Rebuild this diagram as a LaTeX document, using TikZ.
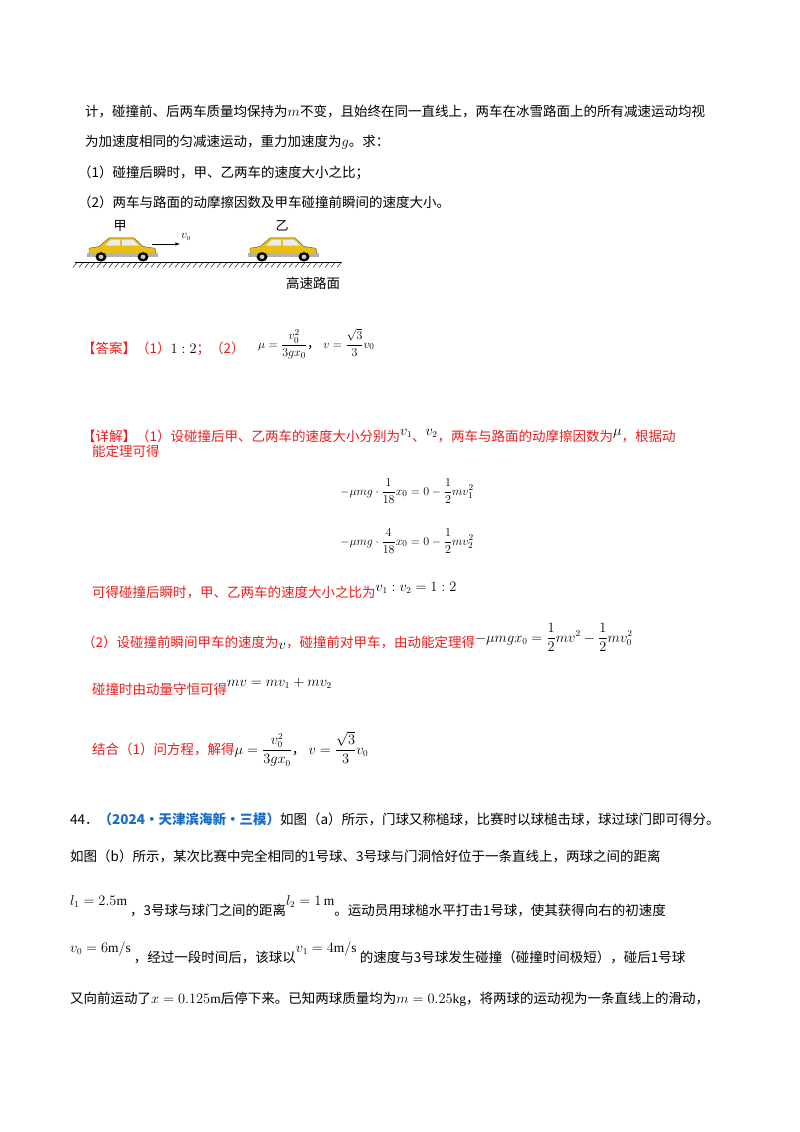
\documentclass[tikz,border=0pt]{standalone}
\usepackage{fontspec}
\usepackage{amsmath}
\setmainfont{Liberation Serif}
\newfontfamily\cjk{Noto Sans CJK SC}
\definecolor{ansred}{RGB}{230,30,30}
\definecolor{qblue}{RGB}{20,110,200}
\definecolor{caryel}{RGB}{235,190,20}
\tikzset{
  tx/.style={anchor=base west,inner sep=0pt,font=\cjk\fontsize{13.5}{16}\selectfont},
  rtx/.style={tx,text=ansred},
  mth/.style={anchor=base west,inner sep=0pt,font=\fontsize{13}{15}\selectfont},
  pics/car/.style={code={
    \fill[caryel,draw=black!70,line width=0.4pt] (0,8) -- (0,16) -- (10,18) -- (20,28) -- (45,28) -- (54,18) -- (66,16) -- (67,8) -- cycle;
    \fill[white!85!gray] (22,26) -- (31,26) -- (31,19) -- (16,19) -- cycle;
    \fill[white!85!gray] (33,26) -- (44,26) -- (50,19) -- (33,19) -- cycle;
    \fill[gray!60] (-2,6) rectangle (69,10);
    \fill[black] (12,6) circle (5.5); \fill[gray!40] (12,6) circle (2.5);
    \fill[black] (54,6) circle (5.5); \fill[gray!40] (54,6) circle (2.5);
  }}
}
\begin{document}
\begin{tikzpicture}[x=1pt,y=-1pt]
\useasboundingbox[fill=white] (0,0) rectangle (800,1132);
% problem text
\node[tx] (l1) at (85,116) {计，碰撞前、后两车质量均保持为$m$不变，且始终在同一直线上，两车在冰雪路面上的所有减速运动均视};
\node[tx] (l2) at (85,146) {为加速度相同的匀减速运动，重力加速度为$g$。求：};
\node[tx] (l3) at (78,177) {（1）碰撞后瞬时，甲、乙两车的速度大小之比；};
\node[tx] (l4) at (78,207) {（2）两车与路面的动摩擦因数及甲车碰撞前瞬间的速度大小。};
% figure
\draw[line width=0.6pt] (75,262.5) -- (342,262.5);
\foreach \i in {0,...,44} \draw[line width=0.4pt] (77+\i*6,262.5) -- (73+\i*6,267.5);
\pic at (89,262) [yscale=-0.86] {car};
\pic at (250,262) [yscale=-0.86] {car};
\node[anchor=center,inner sep=0pt,font=\cjk\fontsize{13}{15}\selectfont] (jia) at (120,226) {甲};
\node[anchor=center,inner sep=0pt,font=\cjk\fontsize{13}{15}\selectfont] (yi) at (282,226) {乙};
\coordinate (a1) at (152,244); \coordinate (a2) at (180,244);
\draw[-latex,line width=0.6pt] (a1) -- (a2);
\node[anchor=center,inner sep=0pt,font=\fontsize{13}{15}\selectfont] (v0) at (186,237) {$v_{\scriptscriptstyle 0}$};
\node[tx] (road) at (286,288) {高速路面};
% answer
\node[rtx] (ans) at (82,353) {【答案】（1）\textcolor{black}{$1:2$}；（2）};
\node[mth] (ans1) at (258,348) {$\mu=\dfrac{v_0^2}{3gx_0}${\cjk，}\ $v=\dfrac{\sqrt3}{3}v_0$};
% detail
\node[rtx] (d1) at (82,441) {【详解】（1）设碰撞后甲、乙两车的速度大小分别为\raisebox{6pt}{\textcolor{black}{$v_1$}}、\raisebox{6pt}{\textcolor{black}{$v_2$}}，两车与路面的动摩擦因数为\raisebox{6pt}{\textcolor{black}{$\mu$}}，根据动};
\node[rtx] (d2) at (92,456) {能定理可得};
\node[mth] (e1) at (340,495) {$-\mu mg\cdot\dfrac{1}{18}x_0=0-\dfrac12 mv_1^2$};
\node[mth] (e2) at (340,545) {$-\mu mg\cdot\dfrac{4}{18}x_0=0-\dfrac12 mv_2^2$};
\node[rtx] (d3) at (92,597) {可得碰撞后瞬时，甲、乙两车的速度大小之比为\raisebox{6pt}{\textcolor{black}{$v_1:v_2=1:2$}}};
\node[rtx] (d4) at (82,647) {（2）设碰撞前瞬间甲车的速度为\raisebox{-2pt}{\textcolor{black}{$v$}}，碰撞前对甲车，由动能定理得\raisebox{5pt}{\textcolor{black}{$-\mu mgx_0=\dfrac12mv^2-\dfrac12mv_0^2$}}};
\node[rtx] (d5) at (92,694) {碰撞时由动量守恒可得\raisebox{8pt}{\textcolor{black}{$mv=mv_1+mv_2$}}};
\node[rtx] (d6) at (92,754) {结合（1）问方程，解得\textcolor{black}{$\mu=\dfrac{v_0^2}{3gx_0}$，\ $v=\dfrac{\sqrt3}{3}v_0$}};
% question 44
\node[tx] (q1) at (70,824) {44．\textcolor{qblue}{\bfseries（2024·天津滨海新·三模）}如图（a）所示，门球又称槌球，比赛时以球槌击球，球过球门即可得分。};
\node[tx] (q2) at (70,861) {如图（b）所示，某次比赛中完全相同的1号球、3号球与门洞恰好位于一条直线上，两球之间的距离};
\node[tx] (q3) at (70,915) {\raisebox{10pt}{$l_1=2.5\mathrm{m}$}\ ，3号球与球门之间的距离\raisebox{10pt}{$l_2=1\,\mathrm{m}$}。运动员用球槌水平打击1号球，使其获得向右的初速度};
\node[tx] (q4) at (70,962) {\raisebox{10pt}{$v_0=6\mathrm{m/s}$}\ ，经过一段时间后，该球以\raisebox{10pt}{$v_1=4\mathrm{m/s}$}\ 的速度与3号球发生碰撞（碰撞时间极短），碰后1号球};
\node[tx] (q5) at (70,1003) {又向前运动了$x=0.125\mathrm{m}$后停下来。已知两球质量均为$m=0.25\mathrm{kg}$，将两球的运动视为一条直线上的滑动，};
\end{tikzpicture}
\end{document}
